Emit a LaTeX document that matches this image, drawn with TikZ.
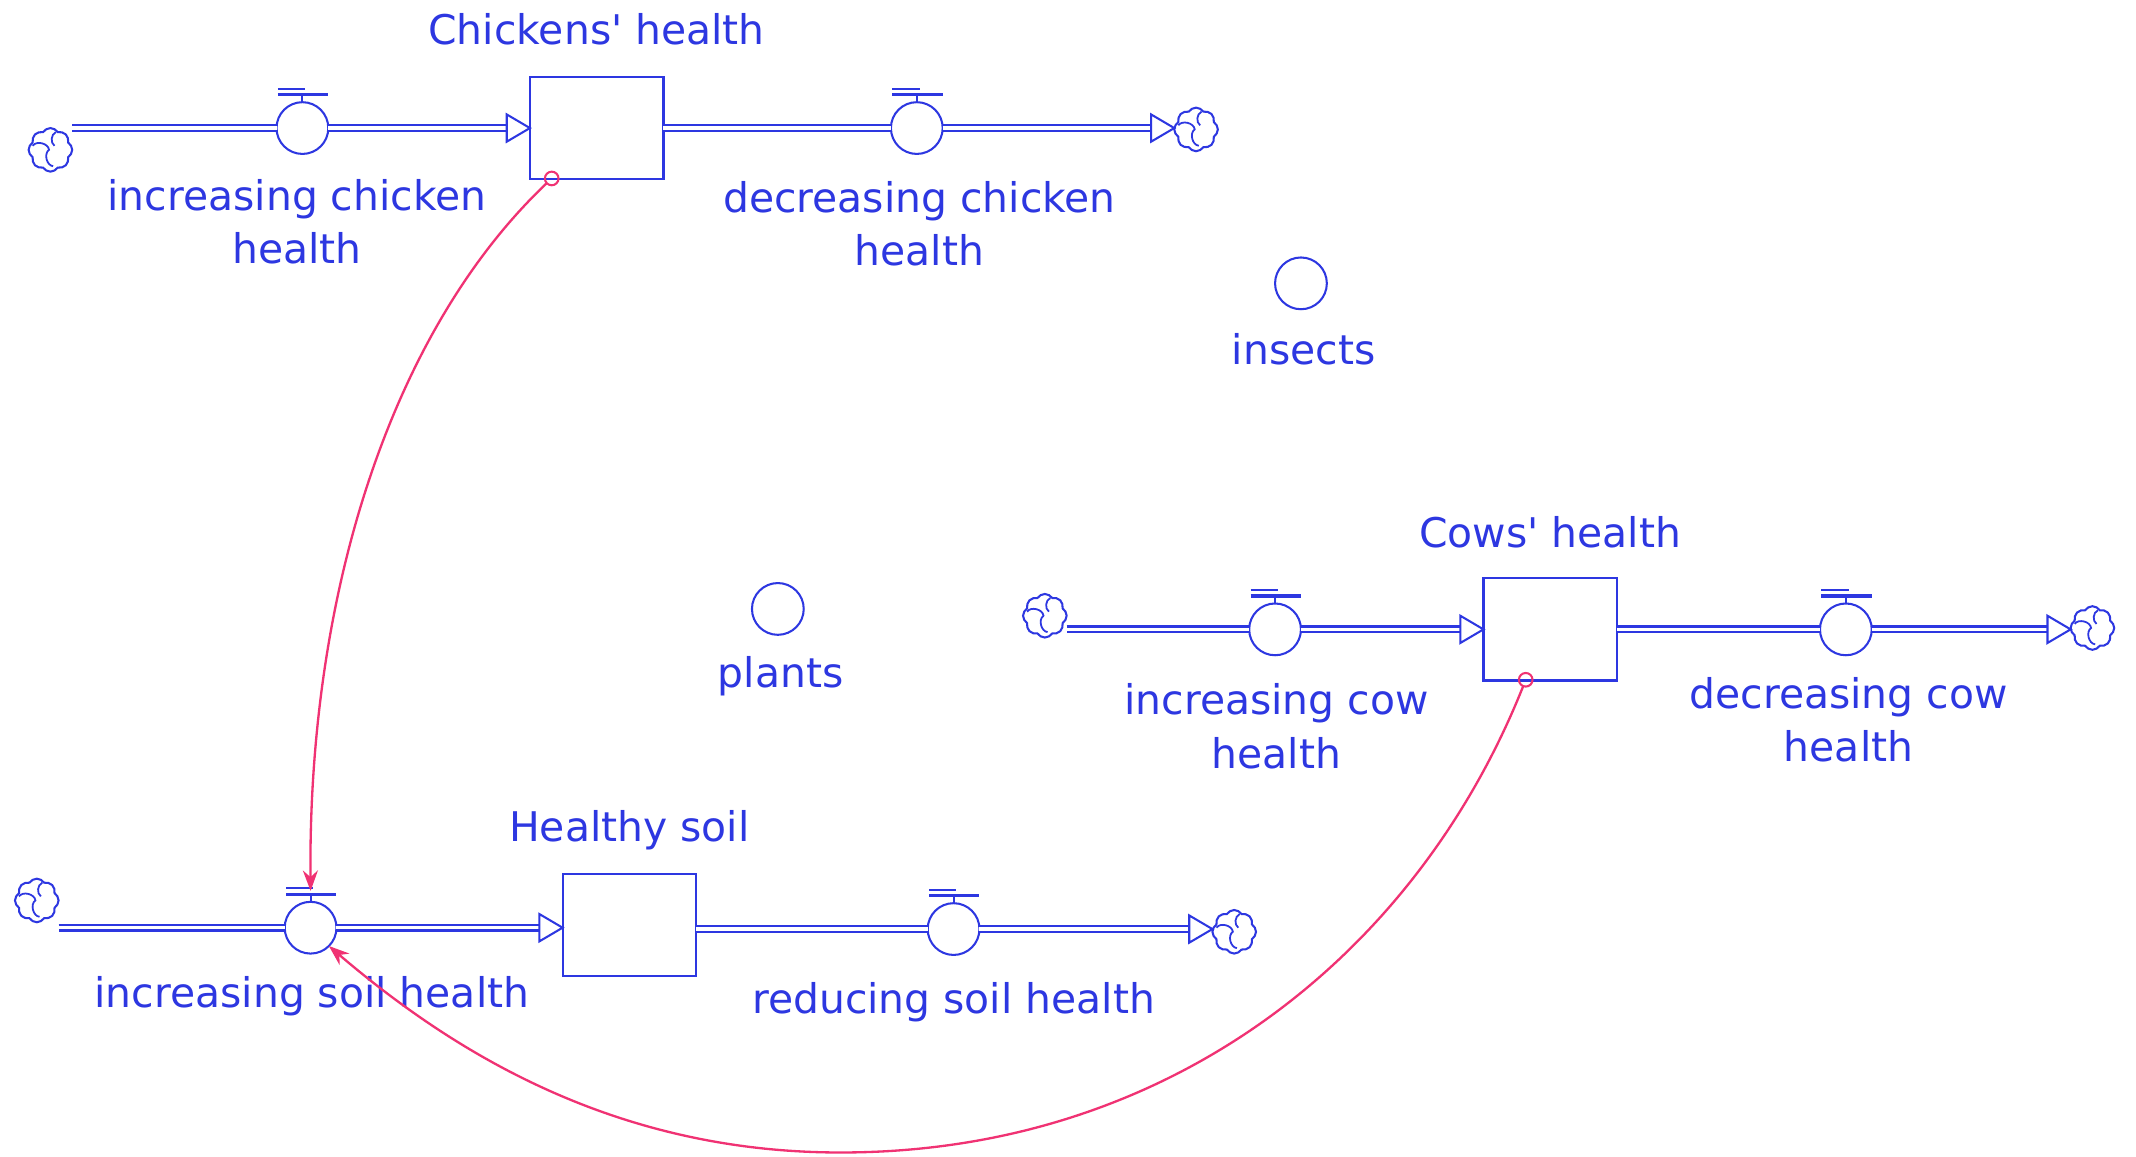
\documentclass[tikz,border=0pt]{standalone}
\usepackage{fontspec}
\setmainfont{DejaVu Sans}[Ligatures=TeXOff]
\usetikzlibrary{shapes.symbols,arrows.meta,calc}
\definecolor{sdblue}{RGB}{45,55,225}
\definecolor{sdpink}{RGB}{240,50,115}
\begin{document}
\begin{tikzpicture}[x=1pt,y=-1pt,
  every node/.style={inner sep=0pt, outer sep=0pt},
  lbl/.style={text=sdblue, font=\fontsize{30}{39}\selectfont, align=center, anchor=north},
  stockbox/.style={draw=sdblue, line width=1.6pt, minimum width=98pt, minimum height=75pt, fill=white},
  valve/.style={circle, draw=sdblue, line width=1.5pt, minimum size=38pt, fill=white},
  aux/.style={circle, draw=sdblue, line width=1.5pt, minimum size=38pt},
  sink/.style={cloud, cloud puffs=8, cloud puff arc=115, aspect=1, draw=sdblue,
    line width=1.5pt, minimum width=32pt, minimum height=32pt, fill=white,
    path picture={\draw[sdblue, line width=1.3pt]
      ($(path picture bounding box.center)+(-13,-3)$) to[bend left=70]
      ($(path picture bounding box.center)+(-1,0)$) to[bend right=70]
      ($(path picture bounding box.center)+(2,12)$);
      \draw[sdblue, line width=1.3pt]
      ($(path picture bounding box.center)+(4,-13)$) to[bend right=60]
      ($(path picture bounding box.center)+(3,-3)$);}},
  pipe/.style={draw=sdblue, line width=1.8pt, double=white, double distance=2.4pt},
  head/.style={draw=sdblue, line width=1.5pt, fill=white, line join=miter},
  link/.style={draw=sdpink, line width=1.7pt, -{Stealth[length=15pt,width=11pt]}},
  tap/.style={circle, draw=sdpink, line width=1.5pt, minimum size=10pt},
]
\fill[white] (0,0) rectangle (1568,849);
\useasboundingbox (0,0) rectangle (1568,849);

% ---- chickens' health chain ----
\node[sink] (cA) at (37,110) {};
\node[valve] (vA) at (222,94) {};
\node[stockbox] (sA) at (438,94) {};
\node[valve] (vB) at (673,94) {};
\node[sink] (cB) at (878,95) {};
\node[lbl] (lsA) at (438,10) {Chickens' health};
\node[lbl] (lvA) at (218,132) {increasing chicken\\health};
\node[lbl] (lvB) at (675,133) {decreasing chicken\\health};

% ---- cows' health chain ----
\node[sink] (cC) at (767,452) {};
\node[valve] (vC) at (936,462) {};
\node[stockbox] (sC) at (1138,462) {};
\node[valve] (vD) at (1355,462) {};
\node[sink] (cD) at (1536,461) {};
\node[lbl] (lsC) at (1138,379) {Cows' health};
\node[lbl] (lvC) at (937,502) {increasing cow\\health};
\node[lbl] (lvD) at (1357,497) {decreasing cow\\health};

% ---- healthy soil chain ----
\node[sink] (cE) at (27,661) {};
\node[valve] (vE) at (228,681) {};
\node[stockbox] (sE) at (462,679) {};
\node[valve] (vF) at (700,682) {};
\node[sink] (cF) at (906,684) {};
\node[lbl] (lsE) at (462,595) {Healthy soil};
\node[lbl] (lvE) at (229,717) {increasing soil health};
\node[lbl] (lvF) at (700,721) {reducing soil health};

% ---- auxiliaries ----
\node[aux] (ins) at (955,208) {};
\node[lbl] (lins) at (957,245) {insects};
\node[aux] (pla) at (571,447) {};
\node[lbl] (lpla) at (573,482) {plants};

% ---- pipes (inflows end in an open head at the stock) ----
\foreach \src/\vl/\st in {cA/vA/sA, cC/vC/sC, cE/vE/sE}{
  \draw[pipe] (\src.east |- \vl.west) -- (\vl.west);
  \draw[pipe] (\vl.east) -- ($(\vl.east -| \st.west)+(-16,0)$);
  \draw[head] (\vl.east -| \st.west) -- ++(-17,-10) -- ++(0,20) -- cycle;
}
\foreach \st/\vl/\snk in {sA/vB/cB, sC/vD/cD, sE/vF/cF}{
  \draw[pipe] (\vl.west -| \st.east) -- (\vl.west);
  \draw[pipe] (\vl.east) -- ($(\vl.east -| \snk.west)+(-16,0)$);
  \draw[head] (\vl.east -| \snk.west) -- ++(-17,-10) -- ++(0,20) -- cycle;
}

% ---- valve handles ----
\foreach \v in {vA,vB,vC,vD,vE,vF}{
  \draw[sdblue, line width=1.5pt] (\v.north) -- ++(0,-5.5);
  \draw[sdblue, line width=2.6pt] ($(\v.north)+(-18,-5.5)$) -- ++(37,0);
  \draw[sdblue, line width=1.4pt] ($(\v.north)+(-18,-10)$) -- ++(20,0);
}

% ---- information links ----
\node[tap] (tA) at (405,131) {};
\node[tap] (tC) at (1120,499) {};
\draw[link] (tA) .. controls (290,240) and (226,430) .. ($(vE.north)+(0,-8)$);
\draw[link] (tC) .. controls (1040,700) and (860,845) .. (620,846)
  .. controls (450,847) and (330,770) .. (vE.-45);
\end{tikzpicture}
\end{document}
